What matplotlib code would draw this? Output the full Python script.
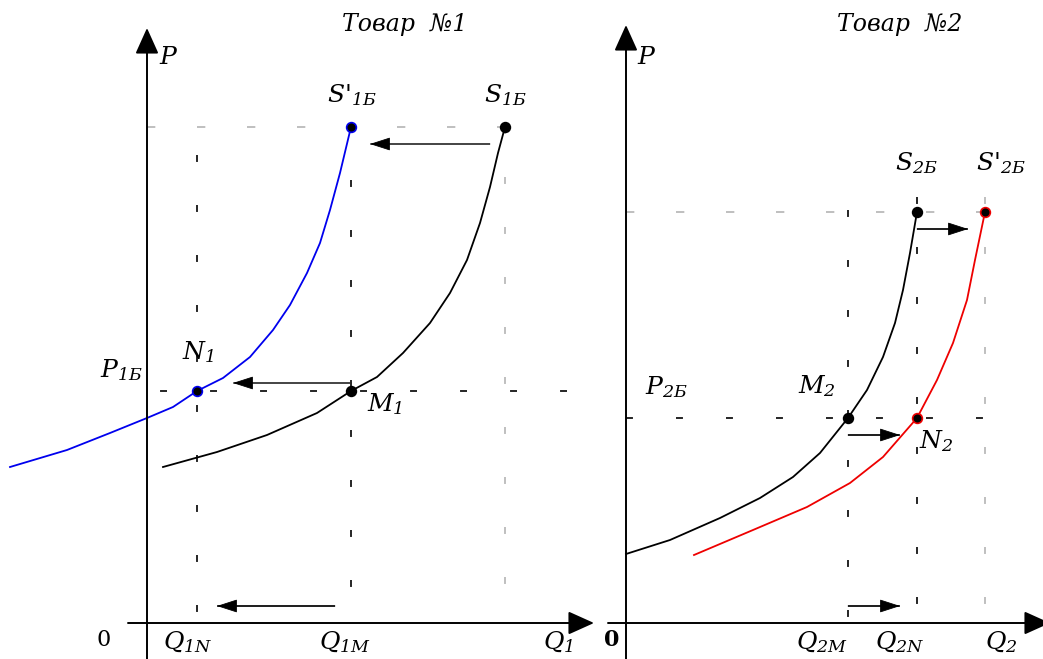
import matplotlib
matplotlib.use('Agg')
import matplotlib.pyplot as plt
from matplotlib.patches import FancyArrowPatch

plt.rcParams['font.family'] = ['DejaVu Serif']
plt.rcParams['mathtext.fontset'] = 'custom'
plt.rcParams['mathtext.it'] = 'DejaVu Serif:italic'
plt.rcParams['mathtext.rm'] = 'DejaVu Serif:italic'
plt.rcParams['lines.scale_dashes'] = False

# ---- товар 1 (Q, P в условных единицах) ----
s1_q = [16, 70, 120, 170, 204, 230, 256, 283, 303, 320, 333, 343, 351, 358]
s1_p = [156, 171, 188, 210, 232, 246, 270, 300, 330, 363, 400, 436, 470, 496]
s1n_q = [-137, -80, -37, 0, 26, 50, 76, 103, 126, 143, 160, 173, 183, 193, 204]
s1n_p = [156, 173, 190, 205, 216, 232, 245, 266, 293, 318, 350, 380, 413, 450, 496]
q1n, q1m, q1s = 50, 204, 358
p1b, p1s = 232, 496

# ---- товар 2 ----
s2_q = [0, 44, 94, 134, 167, 194, 222, 241, 257, 269, 277, 284, 291]
s2_p = [69, 83, 105, 125, 146, 170, 205, 233, 266, 300, 333, 370, 411]
s2n_q = [68, 127, 181, 224, 257, 291, 311, 327, 341, 349, 359]
s2n_p = [68, 93, 116, 140, 166, 205, 243, 280, 323, 363, 411]
q2m, q2n, q2s = 222, 291, 359
p2b, p2s = 205, 411

fig = plt.figure(figsize=(10.43, 6.59), dpi=100)
# 1 единица = 1 пиксель
ax1 = fig.add_axes([0, 0, 600 / 1043, 1])
ax1.set_xlim(-147, 453)
ax2 = fig.add_axes([600 / 1043, 0, 443 / 1043, 1])
ax2.set_xlim(-26, 417)
for ax in (ax1, ax2):
    ax.set_ylim(-36, 623)
    ax.axis('off')

DASH = (0, (5, 31))
GRAY = '#b4b4b4'


def arrow(ax, x0, y0, x1, y1, big=False, shaft='black'):
    if big:
        style = '-|>,head_length=1.6,head_width=0.72'
        lw = 1.4
    else:
        style = '-|>,head_length=1.3,head_width=0.42'
        lw = 1.1
        ax.plot([x0, x1], [y0, y1], color=shaft, lw=lw, zorder=4,
                clip_on=False, solid_capstyle='butt')
    a = FancyArrowPatch((x0, y0), (x1, y1), arrowstyle=style, mutation_scale=10,
                        color='black', lw=lw if big else 0.1, shrinkA=0,
                        shrinkB=0, clip_on=False, zorder=4)
    if not big:
        a.set_linewidth(0.6)
    ax.add_patch(a)


def lab(ax, x, y, s, size=18):
    ax.text(x, y, s, fontsize=size, style='italic', ha='center', va='center',
            clip_on=False)


# ---------- левая панель ----------
arrow(ax1, 0, -36, 0, 595, big=True)
arrow(ax1, -19, 0, 447, 0, big=True)

ax1.plot([0, q1s], [p1s, p1s], color=GRAY, lw=1.2, linestyle=(0, (6, 30)))
ax1.plot([q1s, q1s], [p1s, 0], color=GRAY, lw=1.2, linestyle=DASH)
ax1.plot([0, 430], [p1b, p1b], color='black', lw=1.2, linestyle=(26.6, (5, 31)))
ax1.plot([q1n, q1n], [468, 0], color='black', lw=1.2, linestyle=DASH)
ax1.plot([q1m, q1m], [443, 0], color='black', lw=1.2, linestyle=DASH)

ax1.plot(s1_q, s1_p, color='black', lw=1.3, zorder=3)
ax1.plot(s1n_q, s1n_p, color='#0000ee', lw=1.3, zorder=3)
for q, p, c in [(q1s, p1s, 'black'), (q1m, p1b, 'black'),
                (q1m, p1s, '#0000ee'), (q1n, p1b, '#0000ee')]:
    ax1.plot(q, p, 'o', ms=7, mfc='black', mec=c, mew=1.2, zorder=5)

arrow(ax1, 343, 479, 223, 479, shaft='#555555')
arrow(ax1, q1m, 240, 86, 240, shaft='#555555')
arrow(ax1, 188, 17, 70, 17)

lab(ax1, 258, 598, 'Товар  №1', size=17)
lab(ax1, 22, 566, r'$P$')
lab(ax1, 205, 528, r"$S\text{'}_{\mathit{1Б}}$")
lab(ax1, 358, 528, r'$S_{\mathit{1Б}}$')
lab(ax1, 51, 271, r'$N_{\mathit{1}}$')
lab(ax1, -26, 253, r'$P_{\mathit{1Б}}$')
lab(ax1, 238, 219, r'$M_{\mathit{1}}$')
ax1.text(-43, -17, '0', fontsize=16, ha='center', va='center', clip_on=False)
lab(ax1, 41, -19, r'$Q_{\mathit{1N}}$')
lab(ax1, 198, -19, r'$Q_{\mathit{1M}}$')
lab(ax1, 411, -19, r'$Q_{\mathit{1}}$')

# ---------- правая панель ----------
arrow(ax2, 0, -36, 0, 598, big=True)
arrow(ax2, -18, 0, 424, 0, big=True)

ax2.plot([0, q2s], [p2s, p2s], color=GRAY, lw=1.2, linestyle=(0, (6, 30)))
ax2.plot([q2s, q2s], [426, 0], color=GRAY, lw=1.2, linestyle=DASH)
ax2.plot([0, 364], [p2b, p2b], color='black', lw=1.2, linestyle=(0, (5, 31)))
ax2.plot([q2m, q2m], [413, 0], color='black', lw=1.2, linestyle=DASH)
ax2.plot([q2n, q2n], [426, 0], color='black', lw=1.2, linestyle=DASH)

ax2.plot(s2_q, s2_p, color='black', lw=1.3, zorder=3)
ax2.plot(s2n_q, s2n_p, color='#ee0000', lw=1.3, zorder=3)
for q, p, c in [(q2n, p2s, 'black'), (q2m, p2b, 'black'),
                (q2s, p2s, '#ee0000'), (q2n, p2b, '#ee0000')]:
    ax2.plot(q, p, 'o', ms=7, mfc='black', mec=c, mew=1.2, zorder=5)

arrow(ax2, q2n, 394, 342, 394)
arrow(ax2, q2m, 188, 274, 188)
arrow(ax2, q2m, 17, 274, 17)

lab(ax2, 274, 598, 'Товар  №2', size=17)
lab(ax2, 21, 565, r'$P$')
lab(ax2, 290, 460, r'$S_{\mathit{2Б}}$')
lab(ax2, 375, 460, r"$S\text{'}_{\mathit{2Б}}$")
lab(ax2, 40, 236, r'$P_{\mathit{2Б}}$')
lab(ax2, 191, 237, r'$M_{\mathit{2}}$')
lab(ax2, 310, 182, r'$N_{\mathit{2}}$')
ax2.text(-14, -17, '0', fontsize=16, fontweight='bold', ha='center', va='center',
         clip_on=False)
lab(ax2, 196, -19, r'$Q_{\mathit{2M}}$')
lab(ax2, 274, -19, r'$Q_{\mathit{2N}}$')
lab(ax2, 375, -19, r'$Q_{\mathit{2}}$')

fig.savefig('out.png', dpi=100)
